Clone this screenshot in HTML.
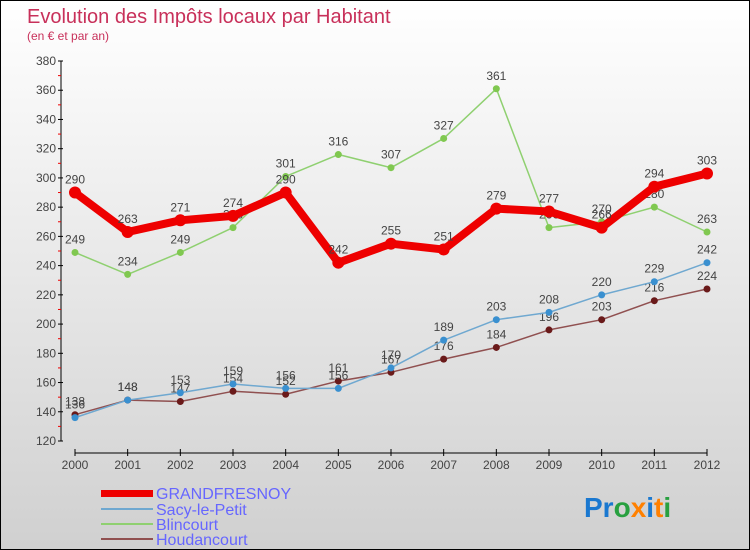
<!DOCTYPE html>
<html><head><meta charset="utf-8"><style>
body{margin:0}
#c{width:748px;height:548px;border:1px solid #000;background:linear-gradient(#ffffff,#d0d0d0);position:relative;font-family:"Liberation Sans",sans-serif;overflow:hidden}
</style></head><body>
<div id="c">
<svg id="s" width="748" height="548" style="position:absolute;left:0;top:0">
<text x="26" y="22" font-size="20" fill="#c8305a">Evolution des Impôts locaux par Habitant</text>
<text x="26" y="39" font-size="12" fill="#c8305a">(en € et par an)</text>
<g id="g"></g>
<g>
<rect x="100" y="489" width="52" height="7" fill="#e00"/>
<text x="155" y="498" font-size="16" fill="#6666ff">GRANDFRESNOY</text>
<line x1="100" y1="508" x2="152" y2="508" stroke="#6fa8d0" stroke-width="2"/>
<text x="155" y="514" font-size="16" fill="#6666ff">Sacy-le-Petit</text>
<line x1="100" y1="523" x2="152" y2="523" stroke="#8fd070" stroke-width="2"/>
<text x="155" y="529" font-size="16" fill="#6666ff">Blincourt</text>
<line x1="100" y1="538" x2="152" y2="538" stroke="#905050" stroke-width="2"/>
<text x="155" y="544" font-size="16" fill="#6666ff">Houdancourt</text>
</g>
<text x="583" y="516" font-size="28" font-weight="bold"><tspan fill="#1a78d0">Pr</tspan><tspan fill="#28a040">o</tspan><tspan fill="#ff8000">x</tspan><tspan fill="#1a78d0">i</tspan><tspan fill="#ff8000">t</tspan><tspan fill="#28a040">i</tspan></text>
</svg>
</div>
<script>
const years=[2000,2001,2002,2003,2004,2005,2006,2007,2008,2009,2010,2011,2012];
const yTicks=[120,140,160,180,200,220,240,260,280,300,320,340,360,380];
const grandfresnoy=[290,263,271,274,290,242,255,251,279,277,266,294,303];
const sacy=[136,148,153,159,156,156,170,189,203,208,220,229,242];
const blincourt=[249,234,249,266,301,316,307,327,361,266,270,280,263];
const houdancourt=[138,148,147,154,152,161,167,176,184,196,203,216,224];
const NS="http://www.w3.org/2000/svg";
const g=document.getElementById('g');
function X(i){return 74+i*(706-74)/(years.length-1);}
function Y(v){return 440-(v-120)*(380/260);}
function el(t,a){const e=document.createElementNS(NS,t);for(const k in a)e.setAttribute(k,a[k]);g.appendChild(e);return e;}
let ax=el('line',{x1:60,y1:60,x2:60,y2:440,stroke:'#000'});


let bx=el('line',{x1:74,y1:452,x2:706,y2:452,stroke:'#000'});


yTicks.forEach((v,i)=>{
 el('line',{x1:57,y1:Y(v),x2:62,y2:Y(v),stroke:'#000'});
 if(i<yTicks.length-1)el('line',{x1:57,y1:Y(v+10),x2:60,y2:Y(v+10),stroke:'#e00'});
 const t=el('text',{x:55,y:Y(v)+4,'font-size':12,fill:'#444','text-anchor':'end'});
 t.textContent=v;
 
 
});
years.forEach((yr,i)=>{
 el('line',{x1:X(i),y1:448,x2:X(i),y2:455,stroke:'#000'});
 const t=el('text',{x:X(i),y:468,'font-size':12,fill:'#444','text-anchor':'middle'});
 t.textContent=yr;
 
 
});
function series(d,color,w,r,dot,name){
 const p=el('polyline',{points:d.map((v,i)=>X(i)+','+Y(v)).join(' '),fill:'none',stroke:color,'stroke-width':w,'stroke-linejoin':'round'});
 
 
 d.forEach((v,i)=>{
  const c=el('circle',{cx:X(i),cy:Y(v),r:r,fill:dot});
  
  
  const t=el('text',{x:X(i),y:Y(v)-9,'font-size':12,fill:'#444','text-anchor':'middle'});
  t.textContent=v;
  
  
 });
}
series(blincourt,'#8fd070',1.5,3.5,'#80c850','blincourt');
series(houdancourt,'#905050',1.5,3.5,'#6a1a1a','houdancourt');
series(sacy,'#6fa8d0',1.5,3.5,'#3a90d0','sacy');
series(grandfresnoy,'#e00',8,6,'#e00','grandfresnoy');
</script>
</body></html>
